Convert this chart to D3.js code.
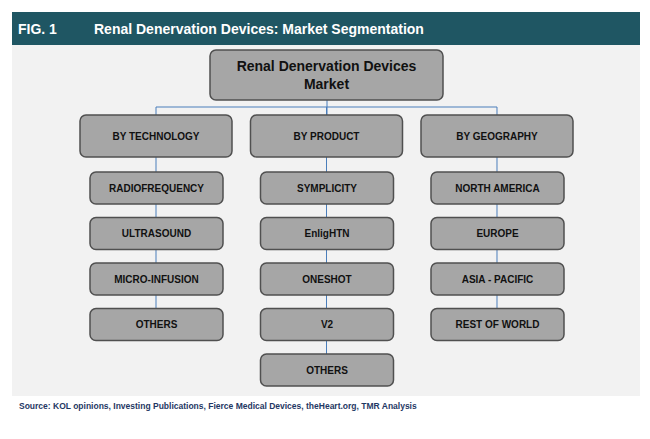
<!DOCTYPE html>
<html><head><meta charset="utf-8">
<script src="https://cdn.jsdelivr.net/npm/d3@7"></script>
<style>body{margin:0;background:#fff}</style>
</head><body>
<svg id="c" width="650" height="439"></svg>
<script>
const title = "Renal Denervation Devices: Market Segmentation";
const rootLabel = ["Renal Denervation Devices", "Market"];
const segments = ["BY TECHNOLOGY", "BY PRODUCT", "BY GEOGRAPHY"];
const technology = ["RADIOFREQUENCY", "ULTRASOUND", "MICRO-INFUSION", "OTHERS"];
const product = ["SYMPLICITY", "EnligHTN", "ONESHOT", "V2", "OTHERS"];
const geography = ["NORTH AMERICA", "EUROPE", "ASIA - PACIFIC", "REST OF WORLD"];
const source = "Source: KOL opinions, Investing Publications, Fierce Medical Devices, theHeart.org, TMR Analysis";

const children = [technology, product, geography];
const svg = d3.select("#c");
const font = "'Liberation Sans Narrow','Arial Narrow','Liberation Sans',Arial,sans-serif";

// header + panel
svg.append("rect").attr("x", 12).attr("y", 12).attr("width", 628).attr("height", 33).attr("fill", "#1f5663");
svg.append("text").attr("x", 18).attr("y", 34).attr("fill", "#fff").attr("font-family", font)
  .attr("font-weight", "bold").attr("font-size", 14).text("FIG. 1");
svg.append("text").attr("x", 94).attr("y", 34).attr("fill", "#fff").attr("font-family", font)
  .attr("font-weight", "bold").attr("font-size", 14).text(title);
svg.append("rect").attr("x", 12).attr("y", 45).attr("width", 628).attr("height", 351).attr("fill", "#f2f2f2");
svg.append("text").attr("x", 19).attr("y", 409).attr("fill", "#1f3864").attr("font-family", font)
  .attr("font-weight", "bold").attr("font-size", 8.5).text(source);

const x = d3.scaleBand().domain(segments).range([80, 573]).paddingInner(0.1085).paddingOuter(0);
const row = d3.scaleLinear().domain([0, 1]).range([172, 217.5]);
const cx = d => x(d) + x.bandwidth() / 2;
const line = "#4a7ebb";

const box = (x0, y0, w, h, lines, size) => {
  const g = svg.append("g");
  g.append("rect").attr("x", x0).attr("y", y0).attr("width", w).attr("height", h).attr("rx", 6)
    .attr("fill", "#a6a6a6").attr("stroke", "#505050").attr("stroke-width", 1.5);
  lines.forEach((t, i) => g.append("text").attr("x", x0 + w / 2)
    .attr("y", y0 + h / 2 + (i - (lines.length - 1) / 2) * size * 1.25 + size * 0.35)
    .attr("text-anchor", "middle").attr("font-family", font).attr("font-weight", "bold")
    .attr("font-size", size).attr("fill", "#111").text(t));
};

// connectors
svg.append("line").attr("x1", 327).attr("x2", 327).attr("y1", 100).attr("y2", 115).attr("stroke", line);
svg.append("line").attr("x1", cx(segments[0])).attr("x2", cx(segments[2])).attr("y1", 107).attr("y2", 107).attr("stroke", line);
segments.forEach((s, i) => {
  svg.append("line").attr("x1", cx(s)).attr("x2", cx(s)).attr("y1", 107).attr("y2", 115).attr("stroke", line);
  const n = children[i].length;
  svg.append("line").attr("x1", cx(s)).attr("x2", cx(s)).attr("y1", 157).attr("y2", row(n - 1)).attr("stroke", line);
});

box(210, 50, 233, 50, rootLabel, 14);
segments.forEach((s, i) => {
  box(x(s), 115, x.bandwidth(), 42, [s], 10);
  children[i].forEach((c, j) => box(x(s) + 10, row(j), x.bandwidth() - 19, 32, [c], 10));
});
</script>
</body></html>
